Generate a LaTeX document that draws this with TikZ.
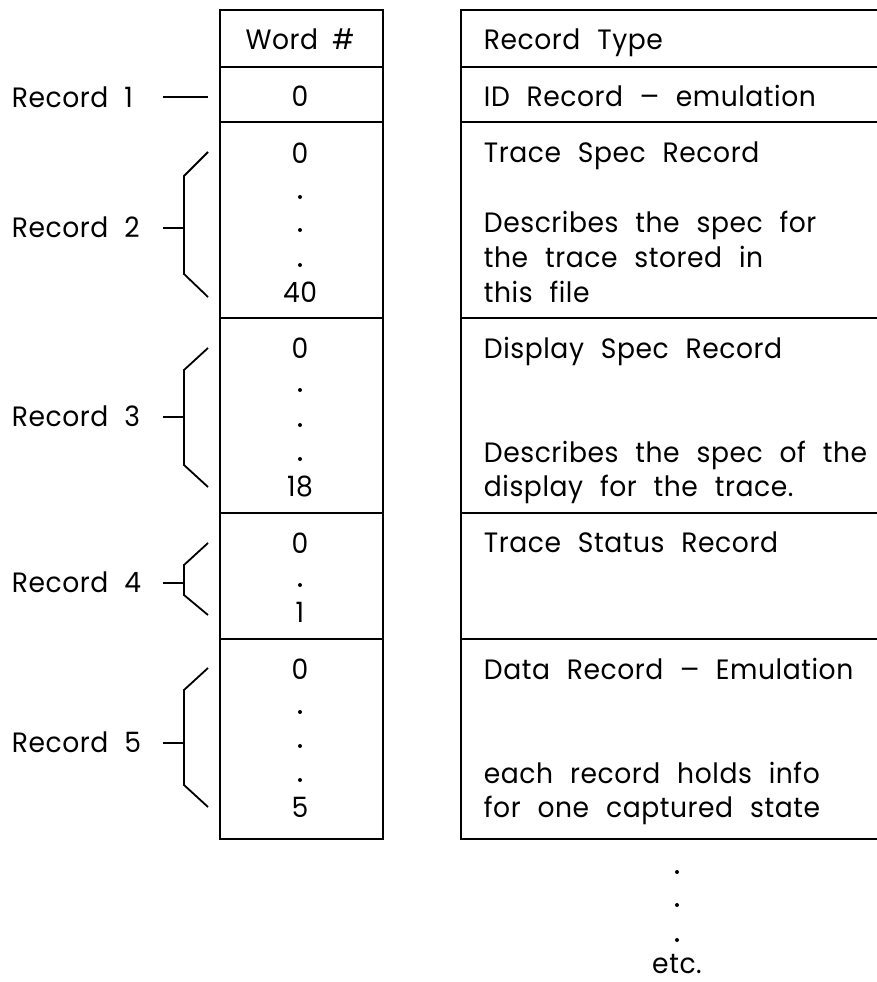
\documentclass[tikz,border=0pt]{standalone}
\usepackage{fontspec}
\usepackage{graphicx}
\setmainfont{Poppins}[LetterSpace=2,WordSpace=2.2,FakeStretch=0.95]
\newcommand{\mydash}{\scalebox{0.8}[1]{—}}
\begin{document}
\begin{tikzpicture}[x=1pt,y=-1pt,line width=1.8pt,
  cell/.style={draw,line width=1.8pt,inner sep=0pt,anchor=north west},
  txt/.style={font=\fontsize{28}{32}\selectfont,inner sep=0pt,anchor=base west},
  num/.style={font=\fontsize{28}{32}\selectfont,inner sep=0pt,anchor=base},
  vdot/.style={circle,fill,inner sep=0pt,minimum size=4pt},
  brk/.style={line width=1.8pt,line join=miter}]
\useasboundingbox (0,0) rectangle (877,982);
% left column cells
\node[cell,minimum width=163pt,minimum height=57pt]  (wh) at (219,9) {};
\node[cell,minimum width=163pt,minimum height=55pt]  (w1) at (219,66) {};
\node[cell,minimum width=163pt,minimum height=196pt] (w2) at (219,121) {};
\node[cell,minimum width=163pt,minimum height=195pt] (w3) at (219,317) {};
\node[cell,minimum width=163pt,minimum height=126pt] (w4) at (219,512) {};
\node[cell,minimum width=163pt,minimum height=200pt] (w5) at (219,638) {};
% right column cells
\node[cell,minimum width=425pt,minimum height=57pt]  (th) at (460,9) {};
\node[cell,minimum width=425pt,minimum height=55pt]  (t1) at (460,66) {};
\node[cell,minimum width=425pt,minimum height=196pt] (t2) at (460,121) {};
\node[cell,minimum width=425pt,minimum height=195pt] (t3) at (460,317) {};
\node[cell,minimum width=425pt,minimum height=126pt] (t4) at (460,512) {};
\node[cell,minimum width=425pt,minimum height=200pt] (t5) at (460,638) {};
% header texts
\node[num] (hw) at (300,50) {Word\hspace{14pt}\#};
\node[txt] (ht) at (483,50) {Record Type};
% word numbers
\node[num] (n10) at (300,106) {0};
\node[num] (n20) at (300,163) {0};
\node[vdot] (d21) at (300,197) {};
\node[vdot] (d22) at (300,230) {};
\node[vdot] (d23) at (300,265) {};
\node[num] (n24) at (300,302) {40};
\node[num] (n30) at (300,358) {0};
\node[vdot] (d31) at (300,390) {};
\node[vdot] (d32) at (300,425) {};
\node[vdot] (d33) at (300,459) {};
\node[num] (n34) at (300,496) {18};
\node[num] (n40) at (300,553) {0};
\node[vdot] (d41) at (300,585) {};
\node[num] (n44) at (300,622) {1};
\node[num] (n50) at (300,679) {0};
\node[vdot] (d51) at (300,712) {};
\node[vdot] (d52) at (300,746) {};
\node[vdot] (d53) at (300,780) {};
\node[num] (n54) at (300,817) {5};
% record type texts
\node[txt] (r1t) at (483,106) {ID Record \mydash{} emulation};
\node[txt] (r2a) at (483,162) {Trace Spec Record};
\node[txt] (r2b) at (483,232) {Describes the spec for};
\node[txt] (r2c) at (483,267) {the trace stored in};
\node[txt] (r2d) at (483,302) {this file};
\node[txt] (r3a) at (483,358) {Display Spec Record};
\node[txt] (r3b) at (483,462) {Describes the spec of the};
\node[txt] (r3c) at (483,496) {display for the trace.};
\node[txt] (r4a) at (483,552) {Trace Status Record};
\node[txt] (r5a) at (483,679) {Data Record \mydash{} Emulation};
\node[txt] (r5b) at (483,783) {each record holds info};
\node[txt] (r5c) at (483,817) {for one captured state};
% etc
\node[vdot] (e1) at (677,872) {};
\node[vdot] (e2) at (677,905) {};
\node[vdot] (e3) at (677,940) {};
\node[num] (etc) at (677,973) {etc.};
% record labels
\node[txt] (L1) at (11,107) {Record\hspace{16pt}1};
\node[txt] (L2) at (11,237) {Record\hspace{16pt}2};
\node[txt] (L3) at (11,426) {Record\hspace{16pt}3};
\node[txt] (L4) at (11,592) {Record\hspace{16pt}4};
\node[txt] (L5) at (11,752) {Record\hspace{16pt}5};
% brackets
\coordinate (k1) at (163,97);
\coordinate (k1e) at (208,97);
\draw (k1) -- (k1e);
\draw[brk] (208,152) -- (184,176) -- (184,274) -- (208,297);
\draw (163,228) -- (184,228);
\draw[brk] (208,348) -- (184,370) -- (184,465) -- (208,487);
\draw (163,417) -- (184,417);
\draw[brk] (208,543) -- (184,565) -- (184,595) -- (208,615);
\draw (163,583) -- (184,583);
\draw[brk] (208,668) -- (184,690) -- (184,785) -- (208,807);
\draw (163,743) -- (184,743);
\end{tikzpicture}
\end{document}
